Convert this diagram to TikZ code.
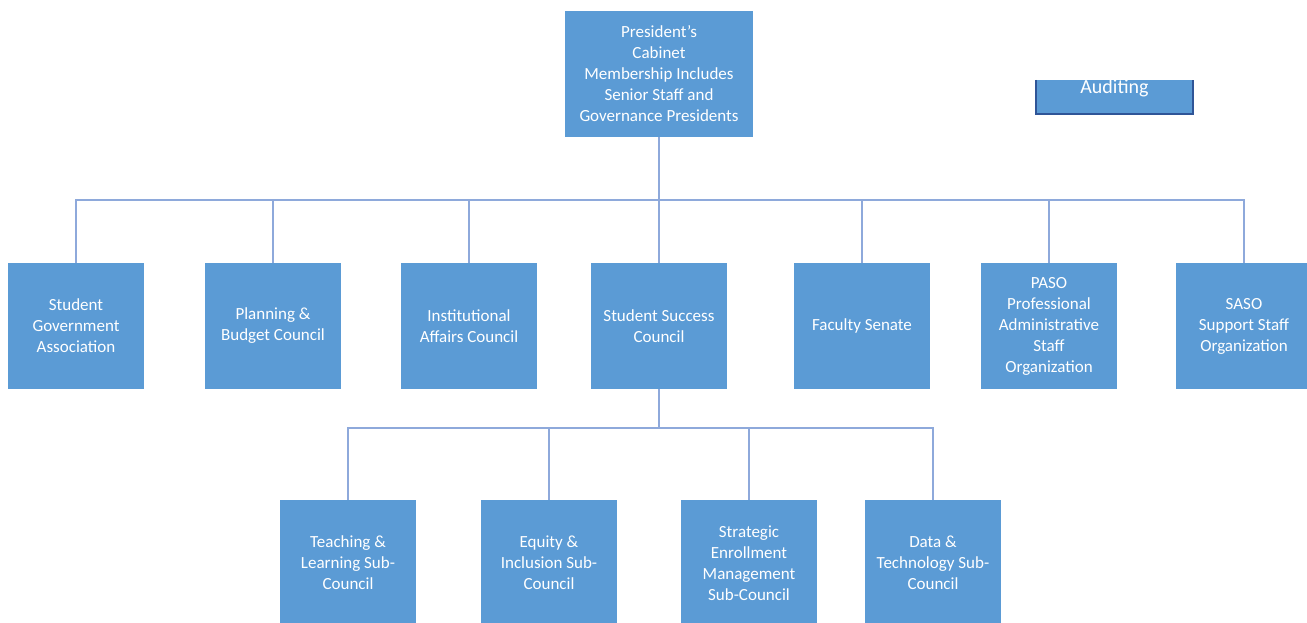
\documentclass[tikz,border=0pt]{standalone}
\usepackage{fontspec}
\setmainfont{Carlito}
\usepackage{tikz}

\definecolor{boxblue}{HTML}{5B9BD5}
\definecolor{linkblue}{HTML}{8EA9DB}
\definecolor{edgeblue}{HTML}{2F5597}

\begin{document}
\begin{tikzpicture}[x=1pt, y=-1pt,
    box/.style={rectangle, fill=boxblue, text=white, align=center,
      minimum width=136pt, minimum height=126pt, inner sep=2pt,
      font=\fontsize{17}{21}\selectfont},
    link/.style={draw=linkblue, line width=1.6pt}]
        \clip (0,0) rectangle (1307,623);

        % top of the chart
        \node[box, minimum width=188pt] (cab) at (659,74) {President's\\Cabinet\\Membership Includes\\Senior Staff and\\Governance Presidents};

        \fill[boxblue] (1035,80) rectangle (1194,115);
        \coordinate (audnw) at (1036,80);
        \coordinate (audse) at (1193,114);
        \draw[edgeblue, line width=2.5pt] (audnw) |- (audse) -- (1193,80);
        \node[text=white, font=\fontsize{20}{24}\selectfont] (aud) at (1114.5,88) {Auditing};

        % councils
        \node[box] (sga) at (76,326) {Student\\Government\\Association};
        \node[box] (pbc) at (273,326) {Planning \&\\Budget Council};
        \node[box] (iac) at (469,326) {Institutional\\Affairs Council};
        \node[box] (ssc) at (659,326) {Student Success\\Council};
        \node[box] (fs) at (862,326) {Faculty Senate};
        \node[box] (paso) at (1049,326) {PASO\\Professional\\Administrative\\Staff\\Organization};
        \node[box] (saso) at (1244,326) {SASO\\Support Staff\\Organization};

        % sub-councils
        \node[box] (tl) at (348,563) {Teaching \&\\Learning Sub-\\Council};
        \node[box] (ei) at (549,563) {Equity \&\\Inclusion Sub-\\Council};
        \node[box] (sem) at (749,563) {Strategic\\Enrollment\\Management\\Sub-Council};
        \node[box] (dt) at (933,563) {Data \&\\Technology Sub-\\Council};

        \coordinate (bar) at (659,200);
        \coordinate (subbar) at (659,428);

        \path[link] (cab.south) -- (bar);
        \foreach \n in {sga, pbc, iac, ssc, fs, paso, saso}
          \path[link] (bar) -| (\n.north);

        \path[link] (ssc.south) -- (subbar);
        \foreach \n in {tl, ei, sem, dt}
          \path[link] (subbar) -| (\n.north);
      \end{tikzpicture}
\end{document}
